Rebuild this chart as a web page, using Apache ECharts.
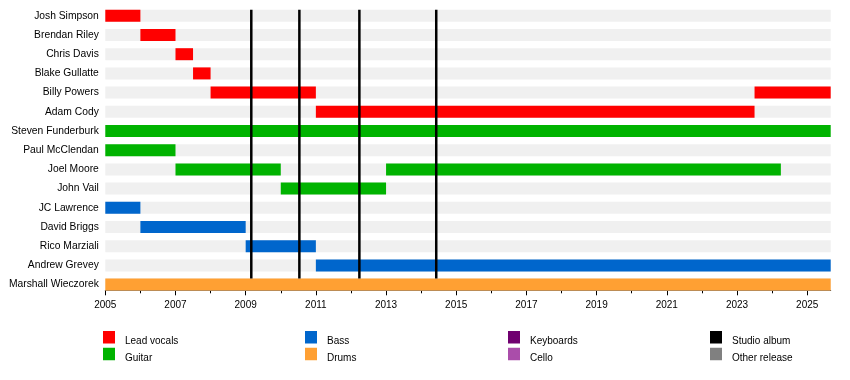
<!DOCTYPE html>
<html>
<head>
<meta charset="utf-8">
<script src="https://cdn.jsdelivr.net/npm/echarts@6/dist/echarts.min.js"></script>
<style>html,body{margin:0;padding:0;background:#fff}#c{width:850px;height:380px}</style>
</head>
<body>
<div id="c"></div>
<script>
var categories = ['Josh Simpson','Brendan Riley','Chris Davis','Blake Gullatte','Billy Powers','Adam Cody','Steven Funderburk','Paul McClendan','Joel Moore','John Vail','JC Lawrence','David Briggs','Rico Marziali','Andrew Grevey','Marshall Wieczorek'];
var START = 2005;
var END = 2025.67;
var leadVocals = [['Josh Simpson',2005,2006],['Brendan Riley',2006,2007],['Chris Davis',2007,2007.5],['Blake Gullatte',2007.5,2008],['Billy Powers',2008,2011],['Billy Powers',2023.5,END],['Adam Cody',2011,2023.5]];
var guitar = [['Steven Funderburk',2005,END],['Paul McClendan',2005,2007],['Joel Moore',2007,2010],['Joel Moore',2013,2024.25],['John Vail',2010,2013]];
var bass = [['JC Lawrence',2005,2006],['David Briggs',2006,2009],['Rico Marziali',2009,2011],['Andrew Grevey',2011,END]];
var drums = [['Marshall Wieczorek',2005,END]];
var keyboards = [];
var cello = [];
var otherReleases = [];
var studioAlbums = [2009.16, 2010.53, 2012.24, 2014.43];
var tickYears = [2005,2006,2007,2008,2009,2010,2011,2012,2013,2014,2015,2016,2017,2018,2019,2020,2021,2022,2023,2024,2025];
var labelYears = [2005,2007,2009,2011,2013,2015,2017,2019,2021,2023,2025];

var FONT = 'Liberation Sans, Arial, sans-serif';
var BAR_H = 12;

function toData(list){
  return list.map(function(r){ return [r[1], r[2], categories.indexOf(r[0])]; });
}
function barRender(params, api){
  var y = api.value(2);
  var s = api.coord([api.value(0), y]);
  var e = api.coord([api.value(1), y]);
  return {type:'rect', shape:{x:s[0], y:s[1]-BAR_H/2, width:e[0]-s[0], height:BAR_H}, style:{fill: api.visual('color')}};
}
function lineRender(params, api){
  var x = api.value(0);
  var top = api.coord([x, 0]);
  var bot = api.coord([x, categories.length-1]);
  return {type:'line', shape:{x1:top[0], y1:top[1]-BAR_H/2, x2:bot[0], y2:bot[1]-BAR_H/2}, style:{stroke:'#000', lineWidth:2.5}};
}
function barSeries(name, color, list, z){
  return {name:name, type:'custom', renderItem:barRender, data:toData(list), encode:{x:[0,1], y:2}, itemStyle:{color:color}, z:z, silent:true, xAxisIndex:0};
}

var background = categories.map(function(c){ return [c, START, END]; });

var series = [
  barSeries('bg', '#f0f0f0', background, 1),
  barSeries('Lead vocals', '#ff0000', leadVocals, 2),
  barSeries('Guitar', '#00b300', guitar, 2),
  barSeries('Bass', '#0066cc', bass, 2),
  barSeries('Drums', '#ffa033', drums, 2),
  barSeries('Keyboards', '#700070', keyboards, 2),
  barSeries('Cello', '#aa4daa', cello, 2),
  barSeries('Other release', '#808080', otherReleases, 2),
  {name:'Studio album', type:'custom', renderItem:lineRender, data:studioAlbums.map(function(v){return [v,0];}), encode:{x:0, y:1}, itemStyle:{color:'#000'}, z:3, silent:true, xAxisIndex:0}
];

function legendCol(left, names){
  return {left:left, top:331, orient:'vertical', data:names, icon:'rect', itemWidth:12, itemHeight:12.5, itemGap:1.5, padding:0, selectedMode:false,
    formatter:function(n){ return '{s|}{t|' + n + '}'; },
    textStyle:{fontSize:10, color:'#000', fontFamily:FONT,
      rich:{s:{width:5, height:18}, t:{fontSize:10, color:'#000', fontFamily:FONT, lineHeight:12, verticalAlign:'bottom'}}}};
}

var chart = echarts.init(document.getElementById('c'), null, {renderer:'canvas'});
chart.setOption({
  animation:false,
  backgroundColor:'#fff',
  grid:{left:105.3, right:19.3, top:6.2, height:288, containLabel:false},
  xAxis:[
    {type:'value', min:START, max:END, position:'bottom', offset:-3.9,
     axisLine:{show:true, lineStyle:{color:'#000', width:1}},
     axisTick:{show:true, length:3, customValues:tickYears, lineStyle:{color:'#000'}},
     axisLabel:{show:false}, splitLine:{show:false}},
    {type:'value', min:START, max:END, position:'bottom', offset:-3.9,
     axisLine:{show:false},
     axisTick:{show:true, length:5, customValues:labelYears, lineStyle:{color:'#000'}},
     axisLabel:{show:true, customValues:labelYears, fontSize:10, color:'#000', fontFamily:FONT, margin:10,
       formatter:function(v){ return String(v); }},
     splitLine:{show:false}}
  ],
  yAxis:{type:'category', data:categories, inverse:true,
    axisLine:{show:false}, axisTick:{show:false}, splitLine:{show:false},
    axisLabel:{fontSize:10.3, color:'#000', fontFamily:FONT, margin:6.5}},
  legend:[
    legendCol(103, ['Lead vocals','Guitar']),
    legendCol(305, ['Bass','Drums']),
    legendCol(508, ['Keyboards','Cello']),
    legendCol(710, ['Studio album','Other release'])
  ],
  series:series
});
</script>
</body>
</html>
